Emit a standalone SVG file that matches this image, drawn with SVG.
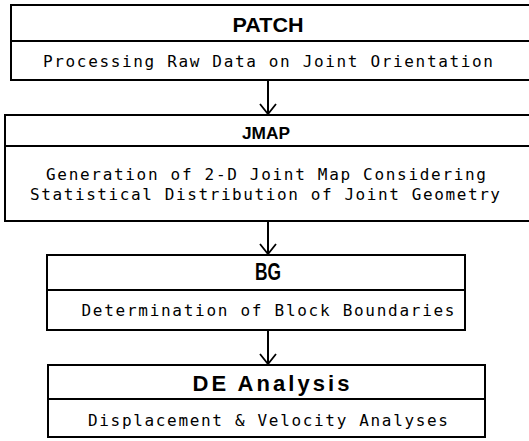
<svg xmlns="http://www.w3.org/2000/svg" width="529" height="441" viewBox="0 0 529 441">
<defs>
<style>
.box{fill:#fff;stroke:#000;stroke-width:2}
.div{stroke:#000;stroke-width:2}
.t{font-family:"Liberation Sans",Arial,sans-serif;font-weight:bold;fill:#000;text-anchor:middle}
.s{font-family:"DejaVu Sans Mono","Liberation Mono",monospace;font-size:16px;fill:#000;text-anchor:middle}
.c{stroke:#000;stroke-width:2;fill:none}
</style>
<marker id="ah" viewBox="0 0 20 20" refX="18" refY="10" markerWidth="20" markerHeight="20" markerUnits="userSpaceOnUse" orient="auto">
<path d="M8,2 L18,10 L8,18" fill="none" stroke="#000" stroke-width="1.8"/>
</marker>
</defs>
<rect width="529" height="441" fill="#fff"/>
<g id="connectors">
<line class="c" x1="268" y1="80" x2="268" y2="114" marker-end="url(#ah)"/>
<line class="c" x1="268" y1="221" x2="268" y2="254" marker-end="url(#ah)"/>
<line class="c" x1="268" y1="330" x2="268" y2="364" marker-end="url(#ah)"/>
</g>
<g id="patch">
<rect class="box" x="11" y="5" width="530" height="75"/>
<line class="div" x1="11" y1="41" x2="529" y2="41"/>
<text class="t" x="268" y="32" font-size="20" textLength="71" lengthAdjust="spacingAndGlyphs">PATCH</text>
<text class="s" x="268" y="67" textLength="450" lengthAdjust="spacing">Processing Raw Data on Joint Orientation</text>
</g>
<g id="jmap">
<rect class="box" x="5" y="115" width="536" height="106"/>
<line class="div" x1="5" y1="146" x2="529" y2="146"/>
<text class="t" x="266" y="139" font-size="17" textLength="48" lengthAdjust="spacingAndGlyphs">JMAP</text>
<text class="s" x="266" y="180" textLength="440" lengthAdjust="spacing">Generation of 2-D Joint Map Considering</text>
<text class="s" x="265" y="200" textLength="470" lengthAdjust="spacing">Statistical Distribution of Joint Geometry</text>
</g>
<g id="bg">
<rect class="box" x="47" y="255" width="418" height="75"/>
<line class="div" x1="47" y1="290" x2="465" y2="290"/>
<text class="t" x="268" y="280" font-size="24" textLength="26" lengthAdjust="spacingAndGlyphs">BG</text>
<text class="s" x="268" y="316" textLength="373" lengthAdjust="spacing">Determination of Block Boundaries</text>
</g>
<g id="de">
<rect class="box" x="48" y="365" width="437" height="72"/>
<line class="div" x1="48" y1="399" x2="485" y2="399"/>
<text class="t" x="271" y="391" font-size="22" textLength="157" lengthAdjust="spacing">DE Analysis</text>
<text class="s" x="268" y="426" textLength="360" lengthAdjust="spacing">Displacement &amp; Velocity Analyses</text>
</g>
</svg>
